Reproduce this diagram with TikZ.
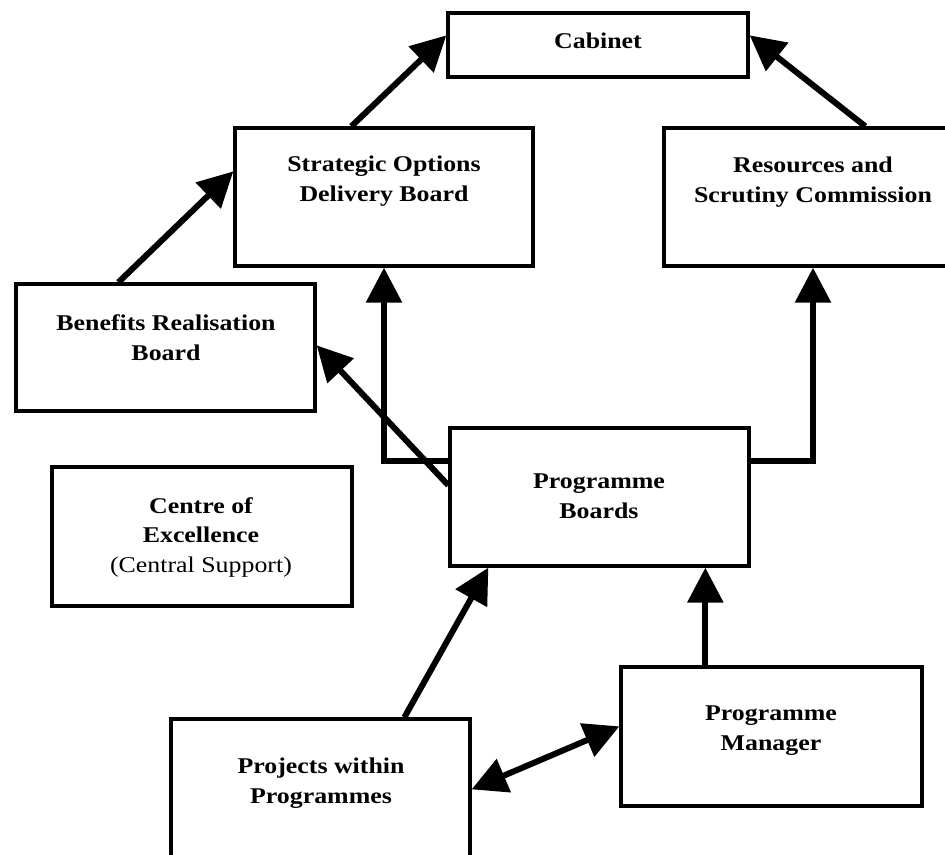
\documentclass[tikz,border=0pt]{standalone}
\usepackage{fontspec}
\setmainfont{Liberation Serif}[FakeStretch=1.15]
\usetikzlibrary{arrows.meta,calc}
\begin{document}
\begin{tikzpicture}[x=1pt,y=-1pt,
  box/.style={draw,line width=3.3pt,rectangle,inner sep=0pt},
  lbl/.style={font=\fontsize{22.5}{29.5}\selectfont\bfseries, align=center, anchor=base, inner sep=0pt},
  arr/.style={line width=6pt, -{Triangle[length=35pt,width=35pt]}},
  darr/.style={line width=6pt, {Triangle[length=35pt,width=35pt]}-{Triangle[length=35pt,width=35pt]}},
]
\useasboundingbox (0,0) rectangle (945,854);
\clip (0,0) rectangle (945,854);
% boxes
\node[box, minimum width=300pt, minimum height=64pt] (cab) at (598,45) {};
\node[box, minimum width=298pt, minimum height=138pt] (sod) at (384,197) {};
\node[box, minimum width=298pt, minimum height=138pt] (rsc) at (813,197) {};
\node[box, minimum width=299pt, minimum height=127pt] (ben) at (165.5,347.5) {};
\node[box, minimum width=300pt, minimum height=139pt] (coe) at (202,536.5) {};
\node[box, minimum width=299pt, minimum height=138pt] (pb) at (599.5,497) {};
\node[box, minimum width=301pt, minimum height=139pt] (pm) at (771.5,736.5) {};
\node[box, minimum width=299pt, minimum height=140pt] (proj) at (320.5,789) {};
% labels (anchor base = baseline of last line)
\node[lbl] (tcab) at (598,48) {Cabinet};
\node[lbl] (tsod) at (384,201) {Strategic Options\\Delivery Board};
\node[lbl] (trsc) at (813,202) {Resources and\\Scrutiny Commission};
\node[lbl] (tben) at (166,360) {Benefits Realisation\\Board};
\node[lbl] (tcoe) at (201,572) {Centre of\\Excellence\\{\mdseries (Central Support)}};
\node[lbl] (tpb) at (599,518) {Programme\\Boards};
\node[lbl] (tpm) at (771,750) {Programme\\Manager};
\node[lbl] (tproj) at (321,803) {Projects within\\Programmes};
% connectors
\draw[arr] ($(sod.north west)+(118,0)$) -- ($(cab.north west)+(0,24)$);
\draw[arr] ($(rsc.north west)+(203,0)$) -- ($(cab.north east)+(0,24)$);
\draw[arr] ($(ben.north west)+(104,0)$) -- ($(sod.north west)+(0,45)$);
\draw[arr] ($(pb.north west)+(0,59)$) -- ($(ben.north east)+(0,63)$);
\draw[arr] ($(pb.north west)+(0,35)$) -| (sod.south);
\draw[arr] ($(pb.north east)+(0,35)$) -| (rsc.south);
\draw[arr] ($(proj.north west)+(235,0)$) -- ($(pb.south west)+(40,0)$);
\coordinate (pmt) at ($(pm.north west)+(86,0)$);
\draw[arr] (pmt) -- (pmt |- pb.south);
\draw[darr] ($(proj.north east)+(0,72)$) -- ($(pm.north west)+(0,61)$);
\end{tikzpicture}
\end{document}
